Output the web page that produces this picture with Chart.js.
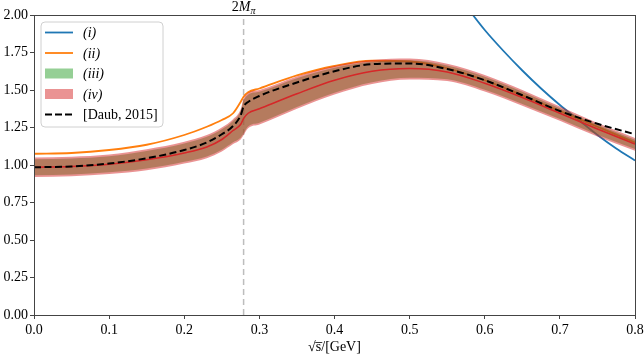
<!DOCTYPE html>
<html>
<head>
<meta charset="utf-8">
<script src="https://cdn.jsdelivr.net/npm/chart.js@4.4.0/dist/chart.umd.min.js"></script>
<style>
  html, body { margin: 0; padding: 0; background: #fff; }
</style>
</head>
<body>
<canvas id="myChart" width="644" height="356"></canvas>
<script>
/*----------------------------- data -----------------------------*/
// common sqrt(s) grid [GeV] for (ii), (iii), (iv) and Daub 2015
const xGrid = [0, 0.05, 0.1, 0.15, 0.2, 0.23, 0.25, 0.265, 0.275, 0.279, 0.285, 0.3,
               0.35, 0.4, 0.45, 0.5, 0.55, 0.6, 0.65, 0.7, 0.75, 0.8];

// (ii)
const yII = [1.075, 1.08, 1.10, 1.135, 1.20, 1.255, 1.30, 1.345, 1.42, 1.455, 1.485, 1.51,
             1.597, 1.66, 1.695, 1.69, 1.645, 1.565, 1.465, 1.36, 1.255, 1.15];

// (iv) band + central line
const yIVLow  = [0.92, 0.925, 0.94, 0.965, 1.01, 1.045, 1.09, 1.14, 1.17, 1.20, 1.245, 1.27,
                 1.375, 1.47, 1.54, 1.57, 1.56, 1.49, 1.395, 1.295, 1.19, 1.095];
const yIVHigh = [1.05, 1.055, 1.07, 1.105, 1.155, 1.20, 1.25, 1.305, 1.37, 1.44, 1.48, 1.50,
                 1.59, 1.66, 1.70, 1.71, 1.675, 1.60, 1.50, 1.39, 1.28, 1.18];
const yIVMid  = [0.985, 0.99, 1.005, 1.035, 1.08, 1.12, 1.17, 1.23, 1.27, 1.31, 1.345, 1.375,
                 1.475, 1.565, 1.625, 1.643, 1.62, 1.545, 1.45, 1.345, 1.24, 1.14];

// (iii) band
const yIIILow  = [0.932, 0.937, 0.952, 0.977, 1.022, 1.057, 1.102, 1.152, 1.182, 1.212, 1.257, 1.282,
                  1.387, 1.482, 1.552, 1.582, 1.572, 1.502, 1.407, 1.307, 1.202, 1.107];
const yIIIHigh = [1.038, 1.043, 1.058, 1.093, 1.143, 1.188, 1.238, 1.293, 1.358, 1.428, 1.468, 1.488,
                  1.578, 1.648, 1.688, 1.698, 1.663, 1.588, 1.488, 1.378, 1.268, 1.168];

// [Daub, 2015]
const yDaub = [0.985, 0.99, 1.01, 1.045, 1.10, 1.15, 1.205, 1.26, 1.33, 1.39, 1.42, 1.46,
               1.55, 1.625, 1.672, 1.677, 1.64, 1.565, 1.465, 1.36, 1.275, 1.205];

// (i)
const xI = [0.575, 0.6, 0.625, 0.65, 0.675, 0.7, 0.725, 0.75, 0.775, 0.8];
const yI = [2.06, 1.90, 1.76, 1.63, 1.51, 1.40, 1.30, 1.20, 1.11, 1.03];

// 2 M_pi threshold
const threshold = 0.279;
const thresholdY = [0, 2];

const xTicks = [0, 0.1, 0.2, 0.3, 0.4, 0.5, 0.6, 0.7, 0.8];
const yTicks = [0, 0.25, 0.5, 0.75, 1.0, 1.25, 1.5, 1.75, 2.0];

/*---------------------------- helpers ---------------------------*/
const pts = (xs, ys) => xs.map((x, i) => ({ x: x, y: ys[i] }));
const serif = "'Liberation Serif', 'DejaVu Serif', serif";
const frameColor = '#444';

/*---------------------------- plugins ---------------------------*/
// top / right spines
const framePlugin = {
    id: 'frame',
    afterDatasetsDraw(chart) {
        const a = chart.chartArea, ctx = chart.ctx;
        ctx.save();
        ctx.strokeStyle = frameColor;
        ctx.lineWidth = 1;
        ctx.strokeRect(a.left + 0.5, a.top + 0.5, a.right - a.left, a.bottom - a.top);
        ctx.restore();
    }
};

// 2M_pi label above the plot
const thresholdLabel = {
    id: 'thresholdLabel',
    afterDraw(chart) {
        const ctx = chart.ctx;
        const px = chart.scales.x.getPixelForValue(threshold);
        const base = chart.chartArea.top - 4;
        ctx.save();
        ctx.fillStyle = '#000';
        ctx.textBaseline = 'alphabetic';
        ctx.font = '14px ' + serif;
        const w2 = ctx.measureText('2').width;
        ctx.font = 'italic 14px ' + serif;
        const wM = ctx.measureText('M').width;
        ctx.font = 'italic 10px ' + serif;
        const wPi = ctx.measureText('π').width;
        let x = px - (w2 + wM + wPi) / 2;
        ctx.textAlign = 'left';
        ctx.font = '14px ' + serif;
        ctx.fillText('2', x, base);
        x += w2;
        ctx.font = 'italic 14px ' + serif;
        ctx.fillText('M', x, base);
        x += wM;
        ctx.font = 'italic 10px ' + serif;
        ctx.fillText('π', x, base + 3);
        ctx.restore();
    }
};

// legend in the upper left corner
const legendItems = [
    { label: '(i)', kind: 'line', color: '#1f77b4', italic: true },
    { label: '(ii)', kind: 'line', color: '#ff7f0e', italic: true },
    { label: '(iii)', kind: 'patch', color: 'rgba(44,160,44,0.5)', italic: true },
    { label: '(iv)', kind: 'patch', color: 'rgba(214,39,40,0.5)', italic: true },
    { label: '[Daub, 2015]', kind: 'dash', color: '#000', italic: false }
];

const legendPlugin = {
    id: 'cornerLegend',
    afterDraw(chart) {
        const ctx = chart.ctx;
        const a = chart.chartArea;
        const left = a.left + 7, top = a.top + 7;
        const w = 122, h = 105, r = 4;
        ctx.save();
        ctx.beginPath();
        ctx.moveTo(left + r, top);
        ctx.arcTo(left + w, top, left + w, top + h, r);
        ctx.arcTo(left + w, top + h, left, top + h, r);
        ctx.arcTo(left, top + h, left, top, r);
        ctx.arcTo(left, top, left + w, top, r);
        ctx.closePath();
        ctx.fillStyle = 'rgba(255,255,255,0.8)';
        ctx.fill();
        ctx.strokeStyle = '#d0d0d0';
        ctx.lineWidth = 1;
        ctx.stroke();

        legendItems.forEach((it, i) => {
            const cy = top + 10.5 + i * 20.5;
            const x0 = left + 4, x1 = left + 32;
            if (it.kind === 'patch') {
                ctx.fillStyle = it.color;
                ctx.fillRect(x0, cy - 5, x1 - x0, 10);
            } else {
                ctx.beginPath();
                ctx.strokeStyle = it.color;
                ctx.lineWidth = it.kind === 'dash' ? 2 : 1.8;
                ctx.setLineDash(it.kind === 'dash' ? [7, 3] : []);
                ctx.moveTo(x0, cy);
                ctx.lineTo(x1, cy);
                ctx.stroke();
                ctx.setLineDash([]);
            }
            ctx.fillStyle = '#000';
            ctx.font = (it.italic ? 'italic ' : '') + '14px ' + serif;
            ctx.textAlign = 'left';
            ctx.textBaseline = 'middle';
            ctx.fillText(it.label, left + 42, cy + 1);
        });
        ctx.restore();
    }
};

/*----------------------------- chart ----------------------------*/
const datasets = [
    {   // [Daub, 2015]
        data: pts(xGrid, yDaub), borderColor: '#000', borderWidth: 2,
        borderDash: [7, 3.5], fill: false, order: 0
    },
    {   // (iv) central
        data: pts(xGrid, yIVMid), borderColor: '#d62728', borderWidth: 1.5,
        fill: false, order: 1
    },
    {   // (iv) lower
        data: pts(xGrid, yIVLow), borderWidth: 0, borderColor: 'rgba(0,0,0,0)',
        fill: false, order: 9
    },
    {   // (iv) upper -> fill down to lower
        data: pts(xGrid, yIVHigh), borderWidth: 0, borderColor: 'rgba(0,0,0,0)',
        backgroundColor: 'rgba(214,39,40,0.5)', fill: 2, order: 2
    },
    {   // (iii) lower
        data: pts(xGrid, yIIILow), borderWidth: 0, borderColor: 'rgba(0,0,0,0)',
        fill: false, order: 9
    },
    {   // (iii) upper
        data: pts(xGrid, yIIIHigh), borderWidth: 0, borderColor: 'rgba(0,0,0,0)',
        backgroundColor: 'rgba(44,160,44,0.5)', fill: 4, order: 3
    },
    {   // (ii)
        data: pts(xGrid, yII), borderColor: '#ff7f0e', borderWidth: 1.8,
        fill: false, order: 4
    },
    {   // (i)
        data: pts(xI, yI), borderColor: '#1f77b4', borderWidth: 1.8,
        fill: false, order: 5
    },
    {   // 2 M_pi line
        data: pts([threshold, threshold], thresholdY), borderColor: '#bdbdbd',
        borderWidth: 1.5, borderDash: [6, 4], fill: false, order: 6,
        cubicInterpolationMode: 'default', tension: 0
    }
];

const tickFont = { family: serif, size: 14 };

const config = {
    type: 'line',
    data: { datasets: datasets },
    options: {
        responsive: false,
        animation: false,
        devicePixelRatio: 1,
        layout: { padding: { top: 15, right: 9, bottom: 0, left: 0 } },
        elements: {
            point: { radius: 0, hoverRadius: 0 },
            line: { cubicInterpolationMode: 'monotone' }
        },
        plugins: {
            legend: { display: false },
            tooltip: { enabled: false }
        },
        scales: {
            x: {
                type: 'linear', min: 0, max: 0.8,
                afterBuildTicks: (axis) => { axis.ticks = xTicks.map(v => ({ value: v })); },
                afterFit: (axis) => {
                    axis.height = 41;
                    axis.paddingLeft = 0;
                    axis.paddingRight = 0;
                },
                ticks: {
                    autoSkip: false, maxRotation: 0, padding: 3, color: '#000', font: tickFont,
                    callback: (v) => v.toFixed(1)
                },
                grid: { drawOnChartArea: false, drawTicks: true, tickLength: 4, color: frameColor },
                border: { display: true, color: frameColor },
                title: {
                    display: true, text: '√s̅/[GeV]', color: '#000',
                    font: { family: serif, size: 14 }, padding: 0
                }
            },
            y: {
                type: 'linear', min: 0, max: 2,
                afterBuildTicks: (axis) => { axis.ticks = yTicks.map(v => ({ value: v })); },
                afterFit: (axis) => {
                    axis.width = 34;
                    axis.paddingTop = 0;
                    axis.paddingBottom = 0;
                },
                ticks: {
                    padding: 2, color: '#000', font: tickFont,
                    callback: (v) => v.toFixed(2)
                },
                grid: { drawOnChartArea: false, drawTicks: true, tickLength: 4, color: frameColor },
                border: { display: true, color: frameColor }
            }
        }
    },
    plugins: [framePlugin, thresholdLabel, legendPlugin]
};

const myChart = new Chart(document.getElementById('myChart'), config);
</script>
</body>
</html>
